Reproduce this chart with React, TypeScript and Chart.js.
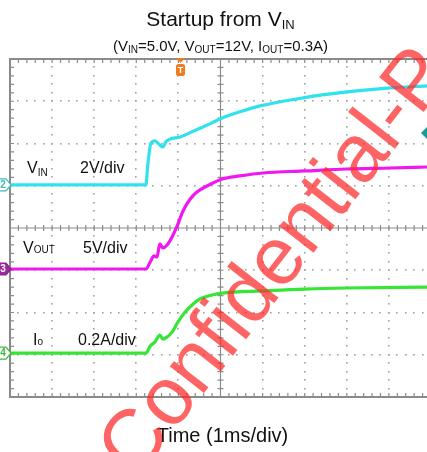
import React, { useEffect, useRef } from "react";
import { Chart, registerables } from "chart.js";

Chart.register(...registerables);

// ---- data (time in ms from left screen edge, 1 ms/div) ----
const vinTimeMs = [0, 3.23, 3.27, 3.35, 3.44, 3.56, 3.63, 3.71, 4.04, 4.47, 4.75, 5.04, 5.46, 5.94, 6.96, 8.0, 9.03, 9.905];
const vinVolts = [0, 0, 0.9, 1.99, 2.08, 1.89, 1.8, 2.06, 2.27, 2.65, 2.89, 3.17, 3.46, 3.74, 4.12, 4.4, 4.59, 4.69];

const voutTimeMs = [0, 3.23, 3.33, 3.42, 3.49, 3.56, 3.63, 3.73, 3.85, 3.97, 4.11, 4.28, 4.44, 4.68, 5.04, 5.46, 6.01, 7.01, 8.0, 9.03, 9.905];
const voutVolts = [0, 0, 0.83, 1.54, 1.42, 2.96, 2.49, 2.84, 3.79, 5.09, 6.86, 8.28, 9.11, 9.82, 10.65, 11.01, 11.36, 11.6, 11.83, 11.95, 12.07];

const ioTimeMs = [0, 3.23, 3.33, 3.44, 3.56, 3.63, 3.73, 3.85, 3.99, 4.16, 4.35, 4.51, 4.8, 5.04, 6.01, 7.01, 8.0, 9.905];
const ioAmps = [0, 0, 0.033, 0.052, 0.085, 0.066, 0.076, 0.099, 0.147, 0.194, 0.232, 0.256, 0.275, 0.284, 0.294, 0.303, 0.308, 0.312];

// channel settings: units per division and ground marker position (divisions from bottom)
const vinPerDiv = 2;
const voutPerDiv = 5;
const ioPerDiv = 0.2;
const vinGroundDiv = 5.02;
const voutGroundDiv = 3.03;
const ioGroundDiv = 1.04;

const triggerMs = 4.05;
const triggerLevelDiv = 6.25;

const xDivs = 9.905; // visible divisions (right edge cropped)
const yDivs = 8;

const FONT = '"Liberation Sans", Arial, Helvetica, sans-serif';

type Part = { t: string; size: number; dy?: number };

function richWidth(ctx: CanvasRenderingContext2D, parts: Part[]) {
  let w = 0;
  for (const p of parts) {
    ctx.font = `${p.size}px ${FONT}`;
    w += ctx.measureText(p.t).width;
  }
  return w;
}

function drawRich(ctx: CanvasRenderingContext2D, parts: Part[], x: number, y: number, align: "left" | "center") {
  let cx = align === "center" ? x - richWidth(ctx, parts) / 2 : x;
  ctx.textAlign = "left";
  ctx.textBaseline = "alphabetic";
  for (const p of parts) {
    ctx.font = `${p.size}px ${FONT}`;
    ctx.fillText(p.t, cx, y + (p.dy || 0));
    cx += ctx.measureText(p.t).width;
  }
}

function toPoints(times: number[], vals: number[], perDiv: number, ground: number) {
  return times.map((t, i) => ({ x: t, y: ground + vals[i] / perDiv }));
}

const scopePlugin = {
  id: "scopeDecor",
  beforeDatasetsDraw(chart: any) {
    const ctx: CanvasRenderingContext2D = chart.ctx;
    const { left, right, top, bottom } = chart.chartArea;
    const xs = chart.scales.x;
    const ys = chart.scales.y;
    ctx.save();
    ctx.fillStyle = "#ffffff";
    ctx.fillRect(left, top, right - left, bottom - top);

    // dotted grid
    ctx.fillStyle = "#a3a3a3";
    for (let i = 1; i <= 9; i++) {
      if (i === 5) continue;
      const px = xs.getPixelForValue(i);
      for (let j = 1; j < yDivs * 5; j++) {
        const py = ys.getPixelForValue(j / 5);
        ctx.fillRect(Math.round(px) - 1, Math.round(py) - 1, 1.6, 1.6);
      }
    }
    for (let j = 1; j < yDivs; j++) {
      if (j === 4) continue;
      const py = ys.getPixelForValue(j);
      for (let i = 1; i <= Math.floor(xDivs * 5); i++) {
        const px = xs.getPixelForValue(i / 5);
        ctx.fillRect(Math.round(px) - 1, Math.round(py) - 1, 1.6, 1.6);
      }
    }

    // center cross with ticks
    ctx.strokeStyle = "#8c8c8c";
    ctx.lineWidth = 1.2;
    const cx = xs.getPixelForValue(5);
    const cy = ys.getPixelForValue(4);
    ctx.beginPath();
    ctx.moveTo(left, cy);
    ctx.lineTo(right, cy);
    ctx.moveTo(cx, top);
    ctx.lineTo(cx, bottom);
    for (let i = 1; i <= Math.floor(xDivs * 5); i++) {
      const px = xs.getPixelForValue(i / 5);
      ctx.moveTo(px, cy - 3);
      ctx.lineTo(px, cy + 3);
      ctx.moveTo(px, top);
      ctx.lineTo(px, top + 4);
      ctx.moveTo(px, bottom);
      ctx.lineTo(px, bottom - 4);
    }
    for (let j = 1; j < yDivs * 5; j++) {
      const py = ys.getPixelForValue(j / 5);
      ctx.moveTo(cx - 3, py);
      ctx.lineTo(cx + 3, py);
      ctx.moveTo(left, py);
      ctx.lineTo(left + 4, py);
    }
    ctx.stroke();

    // borders
    ctx.strokeStyle = "#8a8a8a";
    ctx.lineWidth = 2;
    ctx.beginPath();
    ctx.moveTo(right + 2, top);
    ctx.lineTo(left, top);
    ctx.lineTo(left, bottom);
    ctx.lineTo(right + 2, bottom);
    ctx.stroke();
    ctx.restore();
  },
  afterDatasetsDraw(chart: any) {
    const ctx: CanvasRenderingContext2D = chart.ctx;
    const { left, right, top } = chart.chartArea;
    const xs = chart.scales.x;
    const ys = chart.scales.y;
    ctx.save();

    // channel ground markers
    const marker = (div: number, label: string, stroke: string, fill: string, textColor: string) => {
      const py = ys.getPixelForValue(div);
      ctx.beginPath();
      ctx.moveTo(left - 14, py - 6);
      ctx.lineTo(left - 4, py - 6);
      ctx.lineTo(left + 1, py);
      ctx.lineTo(left - 4, py + 6);
      ctx.lineTo(left - 14, py + 6);
      ctx.closePath();
      ctx.fillStyle = fill;
      ctx.fill();
      ctx.strokeStyle = stroke;
      ctx.lineWidth = 1.2;
      ctx.stroke();
      ctx.fillStyle = textColor;
      ctx.font = `bold 10px ${FONT}`;
      ctx.textAlign = "center";
      ctx.textBaseline = "middle";
      ctx.fillText(label, left - 7, py + 0.5);
    };
    marker(vinGroundDiv, "2", "#3fb8b8", "#ffffff", "#3fb8b8");
    marker(voutGroundDiv, "3", "#8e1f8e", "#9c2a9c", "#ffffff");
    marker(ioGroundDiv, "4", "#3cb83c", "#ffffff", "#3cb83c");

    // trigger position marker
    const tx = xs.getPixelForValue(triggerMs);
    ctx.fillStyle = "#f07c1c";
    ctx.beginPath();
    ctx.moveTo(tx - 4.5, top - 1);
    ctx.lineTo(tx + 4.5, top - 1);
    ctx.lineTo(tx, top + 4);
    ctx.closePath();
    ctx.fill();
    ctx.beginPath();
    (ctx as any).roundRect(tx - 4.5, top + 5, 9, 12, 2.5);
    ctx.fill();
    ctx.fillStyle = "#ffffff";
    ctx.font = `bold 9px ${FONT}`;
    ctx.textAlign = "center";
    ctx.textBaseline = "middle";
    ctx.fillText("T", tx, top + 11.5);

    // trigger level marker (right edge)
    const ly = ys.getPixelForValue(triggerLevelDiv);
    ctx.fillStyle = "#179a9a";
    ctx.beginPath();
    ctx.moveTo(right - 6, ly);
    ctx.lineTo(right, ly - 6);
    ctx.lineTo(right + 6, ly);
    ctx.lineTo(right, ly + 6);
    ctx.closePath();
    ctx.fill();

    // channel labels
    ctx.fillStyle = "#111111";
    drawRich(ctx, [{ t: "V", size: 16 }, { t: "IN", size: 10, dy: 3 }], left + 17, 173, "left");
    drawRich(ctx, [{ t: "2V/div", size: 16 }], left + 70, 173, "left");
    drawRich(ctx, [{ t: "V", size: 16 }, { t: "OUT", size: 10 }], left + 13, 253, "left");
    drawRich(ctx, [{ t: "5V/div", size: 16 }], left + 73, 253, "left");
    drawRich(ctx, [{ t: "I", size: 16 }, { t: "o", size: 10 }], left + 23, 345, "left");
    drawRich(ctx, [{ t: "0.2A/div", size: 16 }], left + 68, 345, "left");

    // titles
    const mid = xs.getPixelForValue(5);
    drawRich(ctx, [{ t: "Startup from V", size: 21 }, { t: "IN", size: 13, dy: 3 }], mid, 26, "center");
    drawRich(
      ctx,
      [
        { t: "(V", size: 15 },
        { t: "IN", size: 10, dy: 2 },
        { t: "=5.0V, V", size: 15 },
        { t: "OUT", size: 10, dy: 2 },
        { t: "=12V, I", size: 15 },
        { t: "OUT", size: 10, dy: 2 },
        { t: "=0.3A)", size: 15 },
      ],
      mid,
      51,
      "center"
    );
    drawRich(ctx, [{ t: "Time (1ms/div)", size: 20 }], mid + 2, 442, "center");

    // watermark
    ctx.save();
    ctx.translate(136, 480);
    ctx.rotate((-52 * Math.PI) / 180);
    ctx.font = `82px ${FONT}`;
    ctx.textAlign = "left";
    ctx.textBaseline = "alphabetic";
    ctx.fillStyle = "rgba(255, 40, 40, 0.72)";
    ctx.fillText("Confidential-P", 0, 0);
    ctx.restore();

    ctx.restore();
  },
};

export default function App() {
  const ref = useRef<HTMLCanvasElement | null>(null);
  useEffect(() => {
    if (!ref.current) return;
    const common = { pointRadius: 0, borderWidth: 3.2, cubicInterpolationMode: "monotone" as const, fill: false };
    const chart = new Chart(ref.current, {
      type: "line",
      data: {
        datasets: [
          { label: "VIN", data: toPoints(vinTimeMs, vinVolts, vinPerDiv, vinGroundDiv), borderColor: "#2fe2ee", ...common },
          { label: "VOUT", data: toPoints(voutTimeMs, voutVolts, voutPerDiv, voutGroundDiv), borderColor: "#f018f0", ...common },
          { label: "IO", data: toPoints(ioTimeMs, ioAmps, ioPerDiv, ioGroundDiv), borderColor: "#36e636", ...common },
        ],
      },
      options: {
        animation: false,
        responsive: false,
        maintainAspectRatio: false,
        layout: { padding: { left: 10, top: 59, right: 0, bottom: 55 } },
        plugins: { legend: { display: false }, tooltip: { enabled: false }, title: { display: false } },
        scales: {
          x: { type: "linear", display: false, min: 0, max: xDivs },
          y: { type: "linear", display: false, min: 0, max: yDivs },
        },
        events: [],
      },
      plugins: [scopePlugin],
    });
    return () => chart.destroy();
  }, []);
  return (
    <div style={{ position: "absolute", left: 0, top: 0, width: 427, height: 452, background: "#fff" }}>
      <canvas ref={ref} width={427} height={452} style={{ display: "block" }} />
    </div>
  );
}
